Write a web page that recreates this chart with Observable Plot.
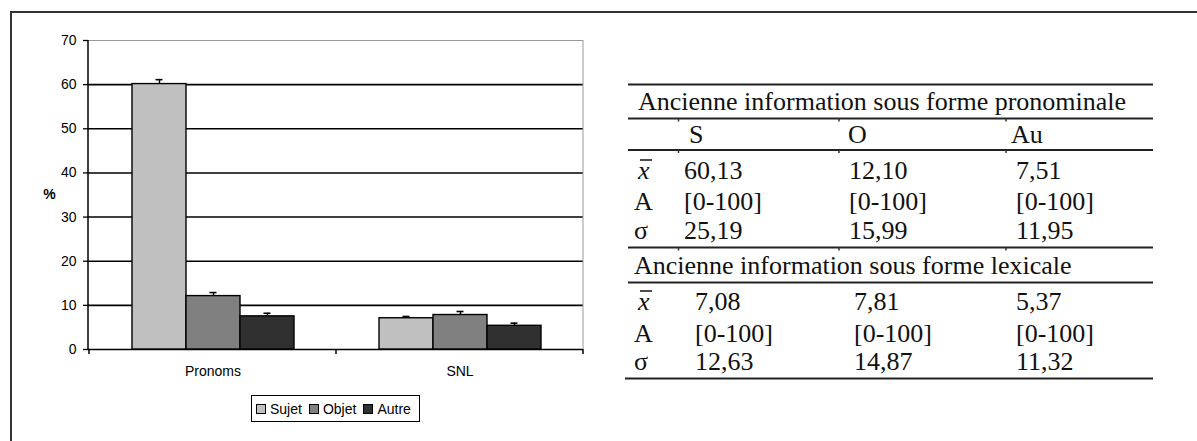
<!DOCTYPE html>
<html><head><meta charset="utf-8">
<script src="https://cdn.jsdelivr.net/npm/d3@7"></script>
<script src="https://cdn.jsdelivr.net/npm/@observablehq/plot@0.6"></script>
<style>
html,body{margin:0;padding:0;background:#fff;}
#page{position:relative;width:1197px;height:441px;overflow:hidden;background:#fff;}
#frame{position:absolute;left:10px;top:11px;width:1300px;height:600px;border-left:2.5px solid #333;border-top:2px solid #333;}
.layer{position:absolute;left:0;top:0;}
#legend{position:absolute;left:251px;top:395px;box-sizing:border-box;width:169px;height:27px;border:1.5px solid #000;display:flex;align-items:center;padding-left:4px;font:14px "Liberation Sans",Arial,sans-serif;color:#000;background:#fff;white-space:nowrap}
.sw{width:8px;height:8px;border:1px solid #000;margin-right:4px;flex:none}
.lab{margin-right:7px}
</style></head><body>
<div id="page"><div id="frame"></div><div id="base" class="layer"></div><div id="bars" class="layer"></div><div id="legend"></div><div id="table" class="layer"></div></div>
<script>
// ---------- data ----------
const categories = ["Pronoms", "SNL"];
const series = ["Sujet", "Objet", "Autre"];
const seriesColors = ["#c0c0c0", "#808080", "#303030"];
const pronomsMeans = [60.13, 12.10, 7.51];
const snlMeans = [7.08, 7.81, 5.37];
const pronomsErrors = [1.0, 0.8, 0.7];
const snlErrors = [0.4, 0.8, 0.6];
const yTicks = [0, 10, 20, 30, 40, 50, 60, 70];
const yLabel = "%";

const pronominalTitle = "Ancienne information sous forme pronominale";
const lexicalTitle = "Ancienne information sous forme lexicale";
const tableColumns = ["S", "O", "Au"];
const tableRowLabels = ["x", "A", "σ"];
const pronomsRanges = ["[0-100]", "[0-100]", "[0-100]"];
const snlRanges = ["[0-100]", "[0-100]", "[0-100]"];
const pronomsSigmas = [25.19, 15.99, 11.95];
const snlSigmas = [12.63, 14.87, 11.32];

// ---------- chart ----------
const rows = categories.flatMap((category, ci) => {
  const means = ci === 0 ? pronomsMeans : snlMeans;
  const errs = ci === 0 ? pronomsErrors : snlErrors;
  return series.map((s, si) => ({category, series: s, value: means[si], err: errs[si]}));
});

const W = 600, H = 441;
const margins = {marginLeft: 88, marginRight: 17, marginTop: 40, marginBottom: 92};
const yDomain = [yTicks[0], yTicks[yTicks.length - 1]];
const font = "'Liberation Sans', Arial, sans-serif";

function boundaryLines(index, scales, values, dims) {
  const {x, y} = scales;
  const g = d3.create("svg:g").attr("fill", "none");
  const top = y(yDomain[1]), bottom = y(yDomain[0]);
  const left = dims.marginLeft, right = dims.width - dims.marginRight;
  g.append("line").attr("x1", left).attr("x2", left).attr("y1", top).attr("y2", bottom)
    .attr("stroke", "#000").attr("stroke-width", 1.5);
  g.append("line").attr("x1", right).attr("x2", right).attr("y1", top).attr("y2", bottom)
    .attr("stroke", "#999").attr("stroke-width", 1);
  const edges = [...categories.map(c => x(c)), right];
  for (const e of edges) {
    g.append("line").attr("x1", e).attr("x2", e).attr("y1", bottom).attr("y2", bottom + 5)
      .attr("stroke", "#000").attr("stroke-width", 1.5);
  }
  return g.node();
}

const base = Plot.plot({
  width: W, height: H, ...margins,
  style: {background: "transparent", fontFamily: font, fontSize: "14px", color: "#000", overflow: "visible"},
  x: {type: "band", domain: categories, padding: 0, label: null},
  y: {domain: yDomain, label: null},
  marks: [
    Plot.ruleY(yTicks.filter(t => t > yDomain[0] && t < yDomain[1]), {stroke: "#000", strokeWidth: 1.6}),
    Plot.ruleY([yDomain[1]], {stroke: "#999"}),
    Plot.ruleY([yDomain[0]], {stroke: "#000", strokeWidth: 1.5}),
    Plot.axisY({ticks: yTicks, tickSize: 5, tickPadding: 7, label: null, fontSize: 14, strokeWidth: 1.3}),
    Plot.axisX({tickSize: 0, tickPadding: 17, label: null, fontSize: 14}),
    Plot.text([yLabel], {text: d => d, frameAnchor: "left", dx: -39, textAnchor: "middle", fontWeight: "bold", fontSize: 14}),
    boundaryLines
  ]
});
document.getElementById("base").appendChild(base);

const bars = Plot.plot({
  width: W, height: H, ...margins,
  style: {background: "transparent", overflow: "visible"},
  fx: {domain: categories, padding: 0, axis: null, label: null},
  x: {domain: series, paddingInner: 0, paddingOuter: 0.75, axis: null, label: null},
  y: {domain: yDomain, axis: null, label: null},
  color: {domain: series, range: seriesColors},
  marks: [
    Plot.barY(rows, {fx: "category", x: "series", y: "value", fill: "series", stroke: "#000", strokeWidth: 1.4}),
    Plot.ruleX(rows, {fx: "category", x: "series", y1: "value", y2: d => d.value + d.err, stroke: "#000", strokeWidth: 1.4}),
    Plot.tickY(rows, {fx: "category", x: "series", y: d => d.value + d.err, stroke: "#000", strokeWidth: 1.6, insetLeft: 23.5, insetRight: 23.5})
  ]
});
document.getElementById("bars").appendChild(bars);

// ---------- legend ----------
const legend = d3.select("#legend");
series.forEach((s, i) => {
  legend.append("span").attr("class", "sw").style("background", seriesColors[i]);
  legend.append("span").attr("class", "lab").text(s);
});

// ---------- table ----------
const fmt = v => d3.format(".2f")(v).replace(".", ",");
const sections = [
  {title: pronominalTitle, values: [pronomsMeans.map(fmt), pronomsRanges, pronomsSigmas.map(fmt)]},
  {title: lexicalTitle, values: [snlMeans.map(fmt), snlRanges, snlSigmas.map(fmt)]}
];
const layout = {
  left: 628, right: 1153, bottomLeft: 625,
  rules: [84.5, 118.5, 150, 247.5, 282.5, 378.5],
  dividers: [678.5, 839, 1006], dividerRules: [118.5, 150, 247.5],
  labelX: 634, meanLabelX: 638,
  blocks: [
    {titleY: 110, titleX: 638, headerY: 143, headerX: [689, 848, 1011], rowY: [179, 210, 239], colX: [684, 849, 1016]},
    {titleY: 274, titleX: 634, rowY: [310, 341.5, 370], colX: [695, 854, 1016]}
  ]
};
const tsvg = d3.select("#table").append("svg").attr("width", 1197).attr("height", 441)
  .style("font-family", "'Liberation Serif', 'Times New Roman', serif").style("font-size", "26px").attr("fill", "#111");
layout.rules.forEach((y, i) => {
  tsvg.append("line").attr("x1", i === layout.rules.length - 1 ? layout.bottomLeft : layout.left).attr("x2", layout.right)
    .attr("y1", y).attr("y2", y).attr("stroke", "#222").attr("stroke-width", 2);
});
layout.dividerRules.forEach(y => layout.dividers.forEach(x => {
  tsvg.append("line").attr("x1", x).attr("x2", x).attr("y1", y).attr("y2", y + 3).attr("stroke", "#333").attr("stroke-width", 1.5);
}));
sections.forEach((sec, si) => {
  const b = layout.blocks[si];
  tsvg.append("text").attr("x", b.titleX).attr("y", b.titleY).text(sec.title);
  if (b.headerY) tableColumns.forEach((c, ci) => tsvg.append("text").attr("x", b.headerX[ci]).attr("y", b.headerY).text(c));
  tableRowLabels.forEach((lab, ri) => {
    const y = b.rowY[ri];
    if (ri === 0) {
      tsvg.append("text").attr("x", layout.meanLabelX).attr("y", y).style("font-style", "italic").text(lab);
      tsvg.append("line").attr("x1", layout.meanLabelX + 2).attr("x2", layout.meanLabelX + 14)
        .attr("y1", y - 19).attr("y2", y - 19).attr("stroke", "#111").attr("stroke-width", 1.5);
    } else {
      tsvg.append("text").attr("x", layout.labelX).attr("y", y).text(lab);
    }
    sec.values[ri].forEach((v, ci) => tsvg.append("text").attr("x", b.colX[ci]).attr("y", y).text(v));
  });
});
</script></body></html>
